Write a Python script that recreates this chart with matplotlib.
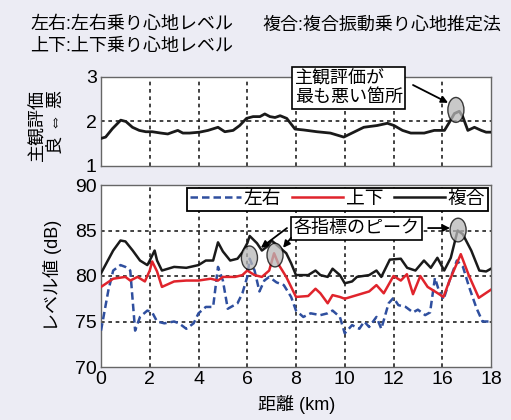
import numpy as np
import matplotlib
matplotlib.use("Agg")
import matplotlib.pyplot as plt
from matplotlib.lines import Line2D
from matplotlib.patches import Ellipse

plt.rcParams['font.family'] = ['Liberation Sans', 'Noto Sans CJK JP', 'DejaVu Sans']

# # # data # # #

# x positions follow the gridlines; the original axis is labelled 0..12,16,18
tick_pos = [0, 2, 4, 6, 8, 10, 12, 14, 16]
tick_labels = ["0", "2", "4", "6", "8", "10", "12", "16", "18"]

# subjective rating (top panel)
subj_x = [0, 0.19, 0.47, 0.81, 1.02, 1.29, 1.57, 1.84, 2.1, 2.46, 2.74, 2.94,
          3.15, 3.36, 3.63, 4.04, 4.39, 4.8, 5.08, 5.42, 5.69, 5.97, 6.24, 6.52,
          6.72, 6.93, 7.14, 7.35, 7.62, 7.96, 8.31, 8.86, 9.41, 9.96, 10.37,
          10.78, 11.33, 11.75, 12.02, 12.37, 12.71, 13.26, 13.67, 14.09, 14.29,
          14.5, 14.7, 14.84, 15.05, 15.32, 15.6, 15.8, 16.0]
subj_y = [1.62, 1.65, 1.84, 2.03, 2.0, 1.87, 1.8, 1.77, 1.77, 1.74, 1.72, 1.76,
          1.8, 1.74, 1.74, 1.76, 1.8, 1.87, 1.77, 1.8, 1.91, 2.07, 2.11, 2.11,
          2.17, 2.11, 2.09, 2.13, 2.07, 1.83, 1.81, 1.77, 1.74, 1.65, 1.76,
          1.87, 1.91, 1.96, 1.91, 1.8, 1.74, 1.74, 1.8, 1.8, 1.98,
          2.18, 2.23, 2.11, 1.8, 1.87, 1.8, 1.76, 1.76]

# level values (bottom panel)
comb_x = [0, 0.5, 0.8, 1.0, 1.3, 1.6, 1.9, 2.0, 2.2, 2.3, 2.5, 3.0, 3.5, 4.0,
          4.3, 4.6, 4.8, 5.0, 5.3, 5.6, 5.8, 6.0, 6.1, 6.4, 6.6, 6.8, 7.0, 7.3,
          7.6, 7.8, 8.0, 8.5, 8.8, 9.0, 9.3, 9.5, 9.8, 10.0, 10.3, 10.5, 11.0,
          11.3, 11.5, 11.85, 12.3, 12.56, 12.9, 13.25, 13.53, 13.8, 14.08, 14.35,
          14.63, 14.84, 15.19, 15.52, 15.8, 16.0]
comb_y = [80.3, 82.8, 83.9, 83.8, 82.8, 81.7, 81.2, 81.7, 82.8, 81.7, 80.6, 81.0,
          80.9, 81.2, 81.7, 81.7, 83.7, 82.7, 81.7, 81.9, 82.6, 83.6, 84.4, 83.6,
          82.8, 83.2, 83.9, 83.2, 82.5, 81.4, 80.1, 80.1, 80.6, 80.1, 79.9, 80.8,
          80.1, 79.2, 79.4, 79.9, 80.1, 80.6, 79.9, 81.8, 81.9, 80.9, 80.6, 81.7,
          80.9, 82.0, 80.6, 82.0, 85.0, 84.6, 82.8, 80.6, 80.5, 80.8]

vert_x = [0, 0.5, 1.0, 1.2, 1.5, 1.8, 2.0, 2.1, 2.3, 2.5, 3.0, 3.5, 4.0, 4.5,
          4.8, 5.0, 5.5, 5.8, 6.0, 6.3, 6.6, 6.9, 7.1, 7.3, 7.6, 8.0, 8.5, 8.8,
          9.0, 9.3, 9.5, 9.8, 10.0, 10.5, 11.0, 11.3, 11.6, 12.0, 12.3, 12.55,
          12.8, 13.1, 13.4, 13.7, 14.05, 14.3, 14.76, 15.1, 15.5, 16.0]
vert_y = [78.8, 79.7, 79.9, 79.5, 79.9, 79.4, 80.6, 81.6, 80.5, 78.8, 79.4, 79.5,
          79.5, 79.7, 79.5, 79.9, 79.9, 80.1, 80.6, 80.1, 79.9, 80.6, 82.5, 81.2,
          79.9, 77.7, 77.8, 78.6, 78.1, 77.0, 77.9, 77.7, 77.5, 77.9, 78.3, 79.0,
          78.1, 80.0, 79.5, 80.2, 78.0, 80.0, 78.8, 78.3, 77.7, 79.5, 82.4, 80.0,
          77.6, 78.5]

lat_x = [0, 0.3, 0.5, 0.8, 1.0, 1.2, 1.4, 1.6, 1.9, 2.1, 2.3, 2.6, 3.0, 3.2,
         3.5, 3.8, 4.0, 4.3, 4.6, 4.8, 5.0, 5.2, 5.6, 5.8, 6.0, 6.1, 6.3, 6.5,
         6.7, 6.9, 7.2, 7.5, 7.8, 8.0, 8.3, 8.6, 9.0, 9.3, 9.5, 9.8, 10.0, 10.3,
         10.6, 10.8, 11.0, 11.3, 11.5, 11.8, 12.0, 12.2, 12.5, 12.8, 13.0, 13.3,
         13.5, 13.7, 13.85, 14.05, 14.3, 14.6, 14.85, 15.1, 15.4, 15.65, 16.0]
lat_y = [74.0, 78.4, 80.6, 81.2, 81.0, 80.6, 74.0, 75.5, 76.2, 76.0, 75.0, 74.8,
         75.0, 74.8, 74.2, 74.8, 75.9, 76.6, 76.6, 81.0, 79.5, 76.4, 77.0, 78.1,
         79.9, 81.9, 80.6, 78.3, 79.5, 79.9, 79.3, 79.0, 77.7, 76.2, 75.5, 75.9,
         75.7, 75.9, 76.2, 75.5, 73.7, 74.6, 74.2, 75.0, 74.4, 75.5, 74.2, 77.0,
         77.6, 76.8, 76.6, 76.0, 76.3, 75.7, 76.0, 79.8, 78.5, 77.4, 79.5, 81.7,
         81.0, 78.8, 76.5, 75.0, 75.0]

lat_color = "#2f4f9f"
vert_color = "#e0242c"
comb_color = "#1a1a1a"
bg_color = "#ececf4"

grid_kw = dict(color="#222222", linestyle=(0, (2.2, 2.2)), linewidth=1.2)
font_jp = 13


def style_axis(ax):
	for s in ax.spines.values():
		s.set_color("#666666")
		s.set_linewidth(1.0)
	ax.tick_params(length=0, labelsize=14, pad=3)
	ax.set_xlim(0, 16)
	ax.set_xticks(tick_pos)
	for xv in tick_pos[1:-1]:
		ax.axvline(xv, zorder=1, **grid_kw)


def bump(ax, x, y, w, h):
	ax.add_patch(Ellipse((x, y), w, h, facecolor="#b8b8b8", edgecolor="k",
		linewidth=1.0, alpha=0.75, zorder=5))


# # # figure # # #

fig = plt.figure(figsize=(5.11, 4.20), dpi=100)
fig.patch.set_facecolor(bg_color)

# header text
fig.text(30 / 511, 1 - 25 / 420, "左右:左右乗り心地レベル", fontsize=font_jp, va="center")
fig.text(262 / 511, 1 - 25 / 420, "複合:複合振動乗り心地推定法", fontsize=font_jp, va="center")
fig.text(30 / 511, 1 - 47 / 420, "上下:上下乗り心地レベル", fontsize=font_jp, va="center")

# # # TOP PANEL # # #
ax1 = fig.add_axes([101 / 511, 1 - 166 / 420, 390 / 511, 89 / 420])
style_axis(ax1)
ax1.set_ylim(1, 3)
ax1.set_yticks([1, 2, 3])
ax1.set_xticklabels([])
ax1.axhline(2, zorder=1, **grid_kw)
ax1.plot(subj_x, subj_y, color=comb_color, linewidth=2.0, zorder=3)
bump(ax1, 14.56, 2.26, 0.66, 0.56)
ax1.text(7.95, 2.75, "主観評価が\n最も悪い箇所", fontsize=font_jp, ha="left", va="center",
	linespacing=1.15, zorder=6,
	bbox=dict(boxstyle="square,pad=0.15", facecolor="white", edgecolor="k", linewidth=1.2))
ax1.annotate("", xy=(14.24, 2.42), xytext=(12.8, 2.82),
	arrowprops=dict(arrowstyle="-|>", color="k", lw=1.3, mutation_scale=10, shrinkA=0, shrinkB=0),
	zorder=6)

# rotated y labels for the top panel
fig.text(38 / 511, 1 - 125 / 420, "主観評価", fontsize=font_jp, rotation=90, ha="center", va="center")
fig.text(56 / 511, 1 - 122 / 420, "良 ⇔ 悪", fontsize=font_jp, rotation=90, ha="center", va="center")

# # # BOTTOM PANEL # # #
ax2 = fig.add_axes([101 / 511, 1 - 367 / 420, 390 / 511, 182 / 420])
style_axis(ax2)
ax2.set_ylim(70, 90)
ax2.set_yticks([70, 75, 80, 85, 90])
ax2.set_xticklabels(tick_labels)
for yv in [75, 80, 85]:
	ax2.axhline(yv, zorder=1, **grid_kw)

ax2.plot(lat_x, lat_y, color=lat_color, linewidth=1.8, linestyle=(0, (3, 1.6)), zorder=3)
ax2.plot(vert_x, vert_y, color=vert_color, linewidth=1.8, zorder=3)
ax2.plot(comb_x, comb_y, color=comb_color, linewidth=1.8, zorder=3)

bump(ax2, 6.09, 82.0, 0.66, 2.6)
bump(ax2, 7.14, 82.3, 0.66, 2.6)
bump(ax2, 14.65, 85.05, 0.66, 2.6)

ax2.text(7.9, 85.22, "各指標のピーク", fontsize=font_jp, ha="left", va="center", zorder=6,
	bbox=dict(boxstyle="square,pad=0.15", facecolor="white", edgecolor="k", linewidth=1.2))
arrow_kw = dict(arrowstyle="-|>", color="k", lw=1.3, mutation_scale=10, shrinkA=0, shrinkB=0)
ax2.annotate("", xy=(6.56, 83.1), xytext=(7.63, 85.27), arrowprops=arrow_kw, zorder=6)
ax2.annotate("", xy=(7.47, 83.1), xytext=(7.8, 84.2), arrowprops=arrow_kw, zorder=6)
ax2.annotate("", xy=(14.32, 85.27), xytext=(13.42, 85.27), arrowprops=arrow_kw, zorder=6)

handles = [Line2D([], [], color=lat_color, linewidth=1.8, linestyle=(0, (3, 1.6))),
	Line2D([], [], color=vert_color, linewidth=1.8),
	Line2D([], [], color=comb_color, linewidth=1.8)]
leg = ax2.legend(handles, ["左右", "上下", "複合"], ncol=3, loc="upper right",
	fontsize=13.5, handlelength=2.7, handletextpad=0.15, columnspacing=0.6,
	borderpad=0.15, borderaxespad=0.15, fancybox=False, framealpha=1,
	edgecolor="k")
leg.get_frame().set_linewidth(1.3)
leg.set_zorder(7)

fig.text(52 / 511, 1 - 275 / 420, "レベル値 (dB)", fontsize=font_jp, rotation=90, ha="center", va="center")
fig.text(297 / 511, 1 - 405 / 420, "距離 (km)", fontsize=font_jp, ha="center", va="center")

fig.savefig("out.png", dpi=100, facecolor=bg_color)
